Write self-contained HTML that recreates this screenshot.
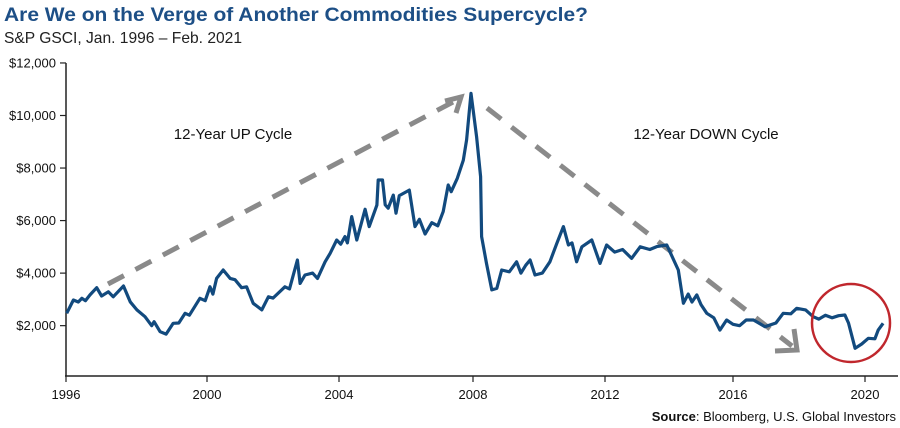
<!DOCTYPE html>
<html><head><meta charset="utf-8"><style>
body{margin:0;background:#fff;}
svg{display:block;font-family:"Liberation Sans Narrow","Liberation Sans",sans-serif;}
</style></head><body>
<svg id="chart" width="900" height="428" viewBox="0 0 900 428" xmlns="http://www.w3.org/2000/svg">
<text x="4" y="21" font-size="19" font-weight="bold" fill="#1d4f86" textLength="584" lengthAdjust="spacingAndGlyphs">Are We on the Verge of Another Commodities Supercycle?</text>
<text x="4" y="43" font-size="16" fill="#222" textLength="238" lengthAdjust="spacingAndGlyphs">S&amp;P GSCI, Jan. 1996 – Feb. 2021</text>
<g id="axes"></g>
<g id="annot">
<line x1="108" y1="284" x2="455" y2="101" stroke="#8a8a8a" stroke-width="5" stroke-dasharray="18,13"/>
<polyline points="445,101 461,97 456,113" fill="none" stroke="#8a8a8a" stroke-width="5"/>
<line x1="487" y1="108" x2="792" y2="346" stroke="#8a8a8a" stroke-width="5" stroke-dasharray="18,13"/>
<polyline points="775,351 797,350 794,329" fill="none" stroke="#8a8a8a" stroke-width="5"/>
<text x="233" y="139" font-size="15" text-anchor="middle" fill="#111">12-Year UP Cycle</text>
<text x="706" y="139" font-size="15" text-anchor="middle" fill="#111">12-Year DOWN Cycle</text>
</g>
<path id="series" fill="none" stroke="#124a7e" stroke-width="3.2" stroke-linejoin="round"/>
<circle cx="851" cy="323" r="39" fill="none" stroke="#c0272d" stroke-width="2.5"/>
<text x="896" y="421" font-size="13" text-anchor="end" fill="#111"><tspan font-weight="bold">Source</tspan>: Bloomberg, U.S. Global Investors</text>
</svg>
<script>
const dates1=[1996.02,1996.21,1996.35,1996.45,1996.55,1996.68,1996.87,1997.01,1997.2,1997.34,1997.63,1997.82,1998.01,1998.24,1998.43,1998.5,1998.67,1998.84,1999.04,1999.2,1999.38,1999.5,1999.8,1999.95,2000.09,2000.18,2000.29,2000.49,2000.7,2000.85,2001.05,2001.2,2001.4,2001.66,2001.86,2002.0,2002.36,2002.5,2002.74,2002.82,2002.97,2003.2,2003.35,2003.58,2003.73,2003.93,2004.05,2004.18,2004.25,2004.38,2004.53,2004.78,2004.9,2005.13,2005.17,2005.3,2005.38,2005.47,2005.62,2005.7,2005.8,2006.1,2006.27,2006.4,2006.57,2006.77,2006.95,2007.11,2007.26,2007.35,2007.53,2007.71,2007.81,2007.94];
const values1=[2470,2977,2900,3040,2950,3170,3445,3130,3290,3100,3510,2910,2600,2340,2000,2150,1770,1680,2090,2100,2470,2400,3040,2950,3480,3200,3800,4120,3800,3750,3445,3480,2850,2600,3100,3050,3480,3400,4500,3610,3930,4000,3800,4430,4750,5260,5100,5390,5150,6150,5260,6430,5770,6590,7545,7545,6600,6470,6970,6280,6950,7160,5770,6050,5490,5920,5800,6340,7355,7100,7610,8300,9070,10845];
const dates2=[2008.11,2008.23,2008.26,2008.41,2008.57,2008.72,2008.87,2009.1,2009.32,2009.45,2009.6,2009.73,2009.88,2010.1,2010.33,2010.54,2010.74,2010.89,2011.0,2011.14,2011.3,2011.6,2011.85,2012.05,2012.3,2012.55,2012.83,2013.1,2013.4,2013.62,2013.93,2014.29,2014.45,2014.6,2014.72,2014.87,2015.0,2015.18,2015.4,2015.59,2015.8,2016.0,2016.2,2016.4,2016.62,2016.97,2017.3,2017.52,2017.75,2017.93,2018.2,2018.43,2018.6,2018.8,2019.0,2019.2,2019.39,2019.5,2019.7,2019.9,2020.1,2020.3,2020.4,2020.55];
const values2=[9190,7670,5390,4370,3360,3420,4120,4050,4430,4000,4300,4500,3930,4000,4430,5130,5770,5070,5150,4430,5000,5260,4370,5070,4800,4900,4560,5000,4900,5010,5070,4120,2850,3200,2900,3170,2800,2470,2300,1830,2215,2050,2000,2215,2215,1960,2100,2470,2450,2660,2600,2340,2250,2400,2300,2380,2405,2100,1140,1300,1520,1500,1830,2090];
const dates=dates1.concat(dates2);
const values=values1.concat(values2);
const xTickYears=[1996,2000,2004,2008,2012,2016,2020];
const yTicks=[2000,4000,6000,8000,10000,12000];
const yLabels=["$2,000","$4,000","$6,000","$8,000","$10,000","$12,000"];
const knotX=[66,207,339,473,605,733,865];
function xs(t){
  let i=Math.floor((t-1996)/4); if(i<0)i=0; if(i>5)i=5;
  const y0=1996+4*i; return knotX[i]+(t-y0)/4*(knotX[i+1]-knotX[i]);
}
function ys(v){return 378.2-v*0.02627;}
const NS="http://www.w3.org/2000/svg";
const ax=document.getElementById('axes');
function mk(tag,attrs){const e=document.createElementNS(NS,tag);for(const k in attrs)e.setAttribute(k,attrs[k]);return e;}
let e=mk('line',{x1:66,y1:63,x2:66,y2:376,stroke:'#222','stroke-width':1.5});


ax.appendChild(e);
e=mk('line',{x1:65,y1:376,x2:898,y2:376,stroke:'#222','stroke-width':1.5});


ax.appendChild(e);
yTicks.forEach((v,i)=>{
  const y=ys(v);
  const t=mk('line',{x1:60,y1:y,x2:66,y2:y,stroke:'#222','stroke-width':1.2});
  
  
  ax.appendChild(t);
  const l=mk('text',{x:56,y:y+4.5,'font-size':13,'text-anchor':'end',fill:'#111'});
  
  
  l.textContent=yLabels[i]; ax.appendChild(l);
});
xTickYears.forEach(yr=>{
  const x=xs(yr);
  const t=mk('line',{x1:x,y1:376,x2:x,y2:382,stroke:'#222','stroke-width':1.2});
  
  
  ax.appendChild(t);
  const l=mk('text',{x:x,y:399,'font-size':13,'text-anchor':'middle',fill:'#111'});
  
  
  l.textContent=yr; ax.appendChild(l);
});
let d='';
dates.forEach((t,i)=>{d+=(i?'L':'M')+xs(t).toFixed(1)+','+ys(values[i]).toFixed(1);});
document.getElementById('series').setAttribute('d',d);
</script>
</body></html>
